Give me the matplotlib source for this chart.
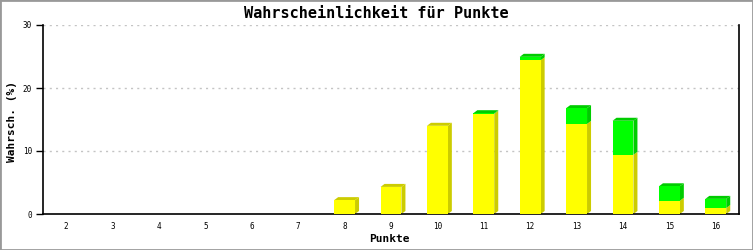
import matplotlib
matplotlib.use("Agg")
import matplotlib.pyplot as plt
from matplotlib.patches import Polygon, Rectangle

points = [2, 3, 4, 5, 6, 7, 8, 9, 10, 11, 12, 13, 14, 15, 16]
yellow = [0, 0, 0, 0, 0, 0, 2.2, 4.3, 14.0, 15.9, 24.4, 14.3, 9.4, 2.1, 0.95]
green = [0, 0, 0, 0, 0, 0, 0, 0, 0, 0.1, 0.55, 2.5, 5.4, 2.3, 1.45]
yticks = [0, 10, 20, 30]

title = "Wahrscheinlichkeit für Punkte"
xlabel = "Punkte"
ylabel = "Wahrsch. (%)"

W, H, DPI = 753, 250, 100
fig = plt.figure(figsize=(W / DPI, H / DPI), dpi=DPI)
fig.patch.set_facecolor("white")

L, R, T, B = 43, 739, 25, 214
ax = fig.add_axes([L / W, (H - B) / H, (R - L) / W, (B - T) / H])
xlim = (1.5, 16.5)
ylim = (0, 30)
ax.set_xlim(*xlim)
ax.set_ylim(*ylim)

mono = "DejaVu Sans Mono"
px_x = (R - L) / (xlim[1] - xlim[0])
px_y = (B - T) / (ylim[1] - ylim[0])
dx = 4 / px_x
dy = 3 / px_y
w = 0.45

for y in yticks[1:]:
    ax.axhline(y, color="#c4c4c4", lw=1, ls=(0, (1.5, 3)), zorder=0)

def seg(x, y0, h, front, dark):
    if h <= 0:
        return
    y1 = y0 + h
    xl, xr = x - w / 2, x + w / 2
    ax.add_patch(Rectangle((xl, y0), w, h, facecolor=front, edgecolor="none", zorder=3))
    ax.add_patch(Polygon([(xr, y0), (xr + dx, y0 + dy), (xr + dx, y1 + dy), (xr, y1)],
                         closed=True, facecolor=dark, edgecolor="none", zorder=2))

def top(x, y1, dark):
    xl, xr = x - w / 2, x + w / 2
    ax.add_patch(Polygon([(xl, y1), (xl + dx, y1 + dy), (xr + dx, y1 + dy), (xr, y1)],
                         closed=True, facecolor=dark, edgecolor="none", zorder=2))

for x, yv, gv in zip(points, yellow, green):
    if yv + gv <= 0:
        continue
    seg(x, 0, yv, "#ffff00", "#cccc00")
    seg(x, yv, gv, "#00ff00", "#00cc00")
    top(x, yv + gv, "#00cc00" if gv > 0 else "#cccc00")

ax.set_xticks(points)
ax.set_xticklabels([str(p) for p in points], fontfamily=mono, fontsize=5.5)
ax.set_yticks(yticks)
ax.set_yticklabels([str(v) for v in yticks], fontfamily=mono, fontsize=5.5)
ax.tick_params(axis="x", length=0, pad=6)
ax.tick_params(axis="y", length=5, width=1, direction="out", pad=3)
for s in ["left", "bottom", "right"]:
    ax.spines[s].set_color("black")
    ax.spines[s].set_linewidth(1.2)
ax.spines["top"].set_visible(False)
ax.set_facecolor("white")

fig.text(376 / W, 1 - 13 / H, title, ha="center", va="center",
         fontfamily=mono, fontweight="bold", fontsize=11)
fig.text(389 / W, 1 - 239 / H, xlabel, ha="center", va="center",
         fontfamily=mono, fontweight="bold", fontsize=8)
fig.text(12 / W, 1 - 122 / H, ylabel, ha="center", va="center", rotation=90,
         fontfamily=mono, fontweight="bold", fontsize=8)

fig.add_artist(Rectangle((0, 0), 1, 1, transform=fig.transFigure, fill=False,
                         edgecolor="#999999", lw=2))

fig.savefig("out.png", dpi=DPI)
